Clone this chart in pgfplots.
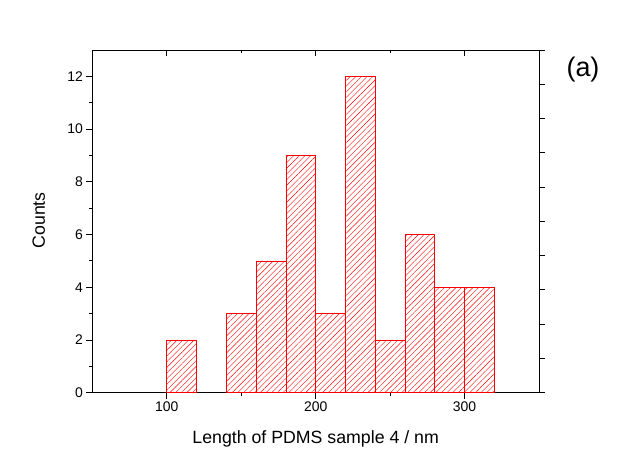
\documentclass[border=0pt]{standalone}
\usepackage{fontspec}
\setmainfont{Liberation Sans}
\usepackage{pgfplots}
\pgfplotsset{compat=1.18}
\usetikzlibrary{patterns.meta}

\begin{document}
\begin{tikzpicture}
\begin{axis}[
  name=main,
  width=446.7bp, height=342.7bp, scale only axis,
  xmin=50, xmax=350, ymin=0, ymax=13,
  xtick={100,200,300}, minor xtick={150,250},
  ytick={0,2,...,12}, minor ytick={1,3,...,11},
  tick align=outside,
  xtick pos=bottom, ytick pos=left,
  major tick length=6bp, minor tick length=3.5bp,
  every tick/.style={black, line width=0.8bp},
  axis line style={line width=0.8bp},
  tick label style={font=\fontsize{14}{16}\selectfont},
  /pgf/number format/assume math mode=true,
  xlabel={Length of PDMS sample 4 / nm},
  ylabel={Counts},
  xlabel style={font=\fontsize{17.8}{20}\selectfont, at={(axis description cs:0.5,-0.1477)}, anchor=base},
  ylabel style={font=\fontsize{17.8}{20}\selectfont, at={(axis description cs:-0.1059,0.503)}, anchor=base},
]
\addplot[ybar, bar width=20, bar shift=0pt, draw=red, line width=0.6bp,
  pattern={Lines[angle=45,distance=4bp,line width=0.4bp]}, pattern color=red]
  coordinates {(110,2) (150,3) (170,5) (190,9) (210,3) (230,12) (250,2) (270,6) (290,4) (310,4)};
\end{axis}
\begin{axis}[
  width=446.7bp, height=342.7bp, scale only axis,
  xmin=50, xmax=350, ymin=0, ymax=10,
  axis x line*=top, axis y line*=right,
  xtick={100,200,300}, minor xtick={150,250},
  ytick={0,1,...,10},
  xtick align=inside, ytick align=outside,
  xticklabels={}, yticklabels={},
  major tick length=6bp, minor tick length=3.5bp,
  every tick/.style={black, line width=0.8bp},
  axis line style={line width=0.8bp},
]
\addplot[draw=none] coordinates {(50,0)};
\end{axis}
\path (main.south west) ++(490.7bp,322.7bp) node[font=\fontsize{27}{30}\selectfont] {(a)};
\path (main.south west) ++(-92.3bp,-79.3bp) rectangle ++(619bp,472bp);
\end{tikzpicture}
\end{document}
